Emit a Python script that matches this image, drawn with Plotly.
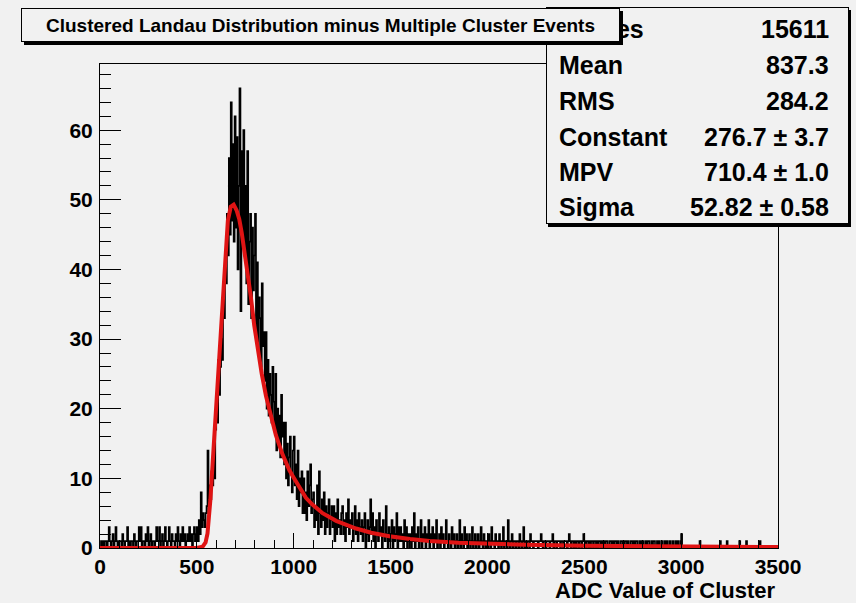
import plotly.graph_objects as go

# ---------------- data ----------------
bin_width = 5          # ADC per sampled step
x_max = 3500
hist_counts = [
    0,1,0,1,0,1,1,0,1,3,   1,0,1,2,0,1,3,1,0,1,   1,1,0,2,1,0,1,1,3,0,   1,0,1,1,0,2,1,0,1,1,
    3,1,3,0,1,1,0,2,1,3,   0,1,2,0,1,1,0,1,3,1,   1,3,0,1,2,0,1,3,1,0,   1,3,1,0,2,1,1,0,2,1,
    3,1,0,2,1,3,1,2,0,1,   2,1,3,1,2,0,2,3,1,2,   3,1,4,2,8,3,5,4,3,5,   6,14,5,9,7,11,9,13,10,17,
    21,18,27,22,26,30,27,36,33,41,   38,48,42,56,45,64,47,58,44,62,   46,59,40,52,66,34,57,45,60,42,
    52,38,57,35,44,48,33,46,37,42,   48,30,41,28,36,33,26,38,29,31,   24,31,20,27,19,25,22,18,26,21,
    17,25,14,20,15,19,13,22,16,18,   12,18,10,15,9,13,16,11,8,14,   16,9,12,7,14,6,10,8,11,5,
    10,5,8,4,11,6,9,12,5,7,   8,3,6,4,9,2,11,5,3,7,   4,8,2,6,3,5,7,2,4,6,   3,6,1,5,2,7,3,4,2,5,
    6,2,4,1,5,3,7,2,4,3,   5,1,3,6,2,4,1,5,3,2,   4,1,3,5,0,2,4,1,3,7,   2,5,1,3,0,4,2,1,5,2,
    3,0,4,2,1,6,2,0,3,1,   2,4,0,3,1,2,5,0,3,1,   3,1,2,0,4,1,3,0,2,1,   2,0,3,1,5,0,2,1,3,0,
    1,4,0,2,1,3,0,2,1,4,   0,2,1,3,0,2,1,4,0,1,   2,0,3,1,2,0,1,4,1,0,   2,1,0,3,1,2,0,1,2,0,
    1,4,0,2,1,0,3,1,2,0,   1,2,0,1,3,0,1,2,0,1,   2,0,1,3,1,0,2,1,0,1,   0,2,1,0,3,1,1,0,2,1,
    1,0,2,1,0,1,3,0,1,1,   0,4,1,0,1,2,0,1,1,0,   1,1,0,2,1,0,1,3,0,1,   0,1,1,0,2,1,1,0,1,1,
    1,1,0,1,1,2,1,0,1,1,   0,1,1,1,0,1,1,2,0,1,   1,0,1,1,1,0,1,1,0,1,   1,1,0,1,2,1,0,1,1,0,
    1,0,1,1,0,1,1,0,1,2,   1,0,1,1,0,1,0,1,1,0,   1,1,0,1,0,1,1,0,1,0,   1,0,1,1,0,0,1,1,0,1,
    0,1,1,0,1,0,0,1,1,0,   1,0,1,1,0,1,0,0,1,1,   0,1,0,1,1,0,0,1,0,1,   1,0,0,1,0,1,1,0,0,1,
    0,1,1,0,0,1,0,1,0,0,   1,0,0,1,0,1,0,0,1,0,   0,1,0,0,1,0,1,0,0,1,   2,0,0,0,0,0,0,0,0,0,
    0,0,0,0,0,0,0,0,0,1,   0,0,0,0,0,0,0,0,0,0,   0,0,0,0,0,0,0,0,0,0,   1,0,0,0,0,0,0,1,0,0,
    0,0,0,0,0,0,0,0,0,0,   1,0,0,0,0,0,0,1,0,0,   0,0,0,0,0,0,0,0,0,0,   0,1,0,0,0,0,0,0,0,0,
    0,0,0,0,0,0,0,0,0,0,
]

fit_adc = [0, 500, 530, 545, 555, 563, 570, 580, 590, 600, 610, 620, 630, 640, 650, 660,
           675, 690, 705, 719, 732, 744, 760, 779, 796, 813, 835, 857, 880, 908, 940,
           977, 1000, 1063, 1098, 1149, 1219, 1322, 1400, 1494, 1600, 1701, 1850, 2000,
           2200, 2500, 2800, 3100, 3500]
fit_val = [0, 0, 0.2, 0.8, 2.1, 4.5, 7, 11.5, 16, 20, 24, 28, 33, 38.5, 43.5, 47,
           49, 49.3, 48.5, 47.2, 45.2, 43, 39.8, 36, 32, 28.6, 25, 21.8, 19, 16.2, 13.6,
           11.2, 10.1, 7.2, 6.2, 5.0, 3.9, 2.8, 2.2, 1.7, 1.3, 1.0, 0.75, 0.6,
           0.45, 0.32, 0.24, 0.18, 0.13]

x_tick_vals = [0, 500, 1000, 1500, 2000, 2500, 3000, 3500]
y_tick_vals = [0, 10, 20, 30, 40, 50, 60]
y_max = 69.5

title_text = "Clustered Landau Distribution minus Multiple Cluster Events"
x_title = "ADC Value of Cluster"
stats_labels = ["Entries", "Mean", "RMS", "Constant", "MPV", "Sigma"]
stats_values = ["15611", "837.3", "284.2", "276.7 \u00b1 3.7", "710.4 \u00b1 1.0", "52.82 \u00b1 0.58"]

# ---------------- style / layout ----------------
W, H = 856, 603
PL, PR, PT, PB = 100, 778, 64, 548
BG = "#f1f1f1"
FONT = "Liberation Sans, Arial, Helvetica, sans-serif"


def fx(px):
    return (px - PL) / (PR - PL)


def fy(py):
    return (PB - py) / (PB - PT)


hist_x = [i * bin_width for i in range(len(hist_counts))] + [x_max]
hist_y = list(hist_counts) + [hist_counts[-1]]

fig = go.Figure()
fig.add_trace(go.Scatter(x=hist_x, y=hist_y, mode="lines", line_shape="hv",
                         line=dict(color="black", width=1.7), hoverinfo="skip"))
fig.add_trace(go.Scatter(x=fit_adc, y=fit_val, mode="lines",
                         line=dict(color="#e01414", width=4), hoverinfo="skip"))

tickfont = dict(family=FONT, size=21, color="black", weight="bold")

fig.update_layout(
    width=W, height=H,
    margin=dict(l=PL, r=W - PR, t=PT, b=H - PB, pad=0),
    paper_bgcolor=BG, plot_bgcolor=BG,
    showlegend=False,
    font=dict(family=FONT, color="black", weight="bold"),
    xaxis=dict(range=[0, x_max], tickvals=x_tick_vals, ticks="inside", ticklen=15,
               tickwidth=1, tickcolor="black", showline=True, linecolor="black",
               linewidth=1, mirror=True, showgrid=False, zeroline=False,
               tickfont=tickfont, ticklabelstandoff=0,
               minor=dict(ticks="inside", ticklen=8, dtick=100, tick0=0,
                          tickcolor="black", tickwidth=1, showgrid=False)),
    yaxis=dict(range=[0, y_max], tickvals=y_tick_vals, ticks="inside", ticklen=21,
               tickwidth=1, tickcolor="black", showline=True, linecolor="black",
               linewidth=1, mirror=True, showgrid=False, zeroline=False,
               tickfont=tickfont, ticklabelstandoff=2,
               minor=dict(ticks="inside", ticklen=11, dtick=2, tick0=0,
                          tickcolor="black", tickwidth=1, showgrid=False)),
)

ann = []
# stats box shadow + box
SB_L, SB_T, SB_W, SB_H = 546, 7, 301, 215
ann.append(dict(x=fx(SB_L + 2), y=fy(SB_T + 3), xref="paper", yref="paper",
                xanchor="left", yanchor="top", width=SB_W, height=SB_H,
                text=" ", showarrow=False, bgcolor="black", borderpad=0,
                borderwidth=1, bordercolor="black"))
ann.append(dict(x=fx(SB_L), y=fy(SB_T), xref="paper", yref="paper",
                xanchor="left", yanchor="top", width=SB_W, height=SB_H,
                text=" ", showarrow=False, bgcolor=BG, borderpad=0,
                borderwidth=1, bordercolor="black"))
row_y = [29, 65, 101, 137, 172, 207]
sfont = dict(family=FONT, size=25, color="black", weight="bold")
for lab, val, ry in zip(stats_labels, stats_values, row_y):
    ann.append(dict(x=fx(557), y=fy(ry), xref="paper", yref="paper", xanchor="left",
                    yanchor="middle", text=lab, showarrow=False, font=sfont))
    ann.append(dict(x=fx(831), y=fy(ry), xref="paper", yref="paper", xanchor="right",
                    yanchor="middle", text=val, showarrow=False, font=sfont))

# title box shadow + box
TB_L, TB_T, TB_W, TB_H = 21, 8, 597, 32
ann.append(dict(x=fx(TB_L + 3), y=fy(TB_T + 3), xref="paper", yref="paper",
                xanchor="left", yanchor="top", width=TB_W, height=TB_H,
                text=" ", showarrow=False, bgcolor="black", borderpad=0,
                borderwidth=1, bordercolor="black"))
ann.append(dict(x=fx(TB_L), y=fy(TB_T), xref="paper", yref="paper",
                xanchor="left", yanchor="top", width=TB_W, height=TB_H,
                text=title_text, showarrow=False, bgcolor=BG, borderpad=0,
                borderwidth=1, bordercolor="black", align="center",
                font=dict(family=FONT, size=19, color="black", weight="bold")))

# x axis title
ann.append(dict(x=fx(777), y=fy(590), xref="paper", yref="paper", xanchor="right",
                yanchor="middle", text=x_title, showarrow=False,
                font=dict(family=FONT, size=22, color="black", weight="bold")))

fig.update_layout(annotations=ann)

fig.write_html("out.html", config={"displayModeBar": False})
